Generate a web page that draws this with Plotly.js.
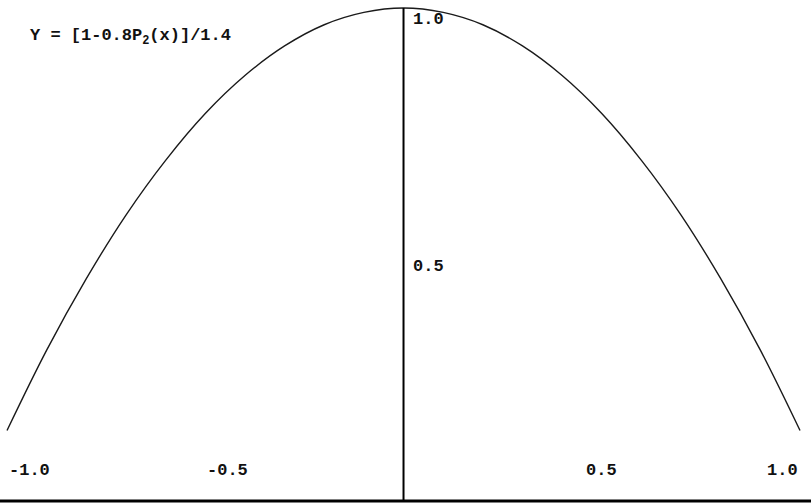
<!DOCTYPE html>
<html>
<head>
<meta charset="utf-8">
<script src="https://cdn.plot.ly/plotly-3.0.1.min.js"></script>
<style>
  html, body { margin: 0; padding: 0; background: #fff; }
  #chart { width: 811px; height: 503px; }
</style>
</head>
<body>
<div id="chart"></div>
<script>
// Sampled points of Y = [1 - 0.8 P2(x)] / 1.4 on [-1, 1]
const xValues = [-1.0, -0.9, -0.8, -0.7, -0.6, -0.5, -0.4, -0.3, -0.2, -0.1, 0.0,
                  0.1,  0.2,  0.3,  0.4,  0.5,  0.6,  0.7,  0.8,  0.9,  1.0];
const yValues = [0.143, 0.306, 0.451, 0.580, 0.691, 0.786, 0.863, 0.923, 0.966, 0.991, 1.0,
                 0.991, 0.966, 0.923, 0.863, 0.786, 0.691, 0.580, 0.451, 0.306, 0.143];

// Axis labels
const xTickValues = [-1.0, -0.5, 0.5, 1.0];
const xTickLabels = ['-1.0', '-0.5', '0.5', '1.0'];
const yTickValues = [1.0, 0.5];
const yTickLabels = ['1.0', '0.5'];

const titleText = 'Y = [1-0.8P<sub>2</sub>(x)]/1.4';

const labelFont = { family: 'Liberation Mono, DejaVu Sans Mono, monospace', size: 17, color: '#111' };

const annotations = [];

xTickValues.forEach((v, i) => {
  annotations.push({
    x: v, y: 0, xref: 'x', yref: 'y',
    text: '<b>' + xTickLabels[i] + '</b>',
    showarrow: false,
    xanchor: v < 0 ? 'left' : (v >= 1 ? 'right' : 'center'),
    yanchor: 'middle',
    yshift: 31,
    font: labelFont
  });
});

yTickValues.forEach((v, i) => {
  annotations.push({
    x: 0, y: v, xref: 'x', yref: 'y',
    text: '<b>' + yTickLabels[i] + '</b>',
    showarrow: false,
    xanchor: 'left',
    yanchor: 'middle',
    xshift: 7,
    yshift: -12,
    font: labelFont
  });
});

annotations.push({
  x: 28 / 811, y: 1 - 37 / 503, xref: 'paper', yref: 'paper',
  text: '<b>' + titleText + '</b>',
  showarrow: false,
  xanchor: 'left', yanchor: 'middle',
  font: labelFont
});

const trace = {
  x: xValues,
  y: yValues,
  type: 'scatter',
  mode: 'lines',
  line: { shape: 'spline', color: '#1a1a1a', width: 1.4 },
  hoverinfo: 'skip'
};

const layout = {
  width: 811,
  height: 503,
  margin: { l: 0, r: 0, t: 0, b: 0, pad: 0 },
  paper_bgcolor: '#ffffff',
  plot_bgcolor: '#ffffff',
  showlegend: false,
  xaxis: {
    range: [-1.0177, 1.0277],
    showgrid: false, zeroline: false, showticklabels: false, ticks: '', showline: false,
    fixedrange: true
  },
  yaxis: {
    range: [-0.004, 1.0162],
    showgrid: false, zeroline: false, showticklabels: false, ticks: '', showline: false,
    fixedrange: true
  },
  shapes: [
    // baseline across the full width
    { type: 'line', xref: 'paper', yref: 'y', x0: 0, x1: 1, y0: 0, y1: 0,
      line: { color: '#000', width: 3 } },
    // vertical axis at x = 0 up to the peak
    { type: 'line', xref: 'x', yref: 'y', x0: 0, x1: 0, y0: 0, y1: 1.0,
      line: { color: '#000', width: 2 } }
  ],
  annotations: annotations
};

Plotly.newPlot('chart', [trace], layout, { staticPlot: true, displayModeBar: false });
</script>
</body>
</html>
